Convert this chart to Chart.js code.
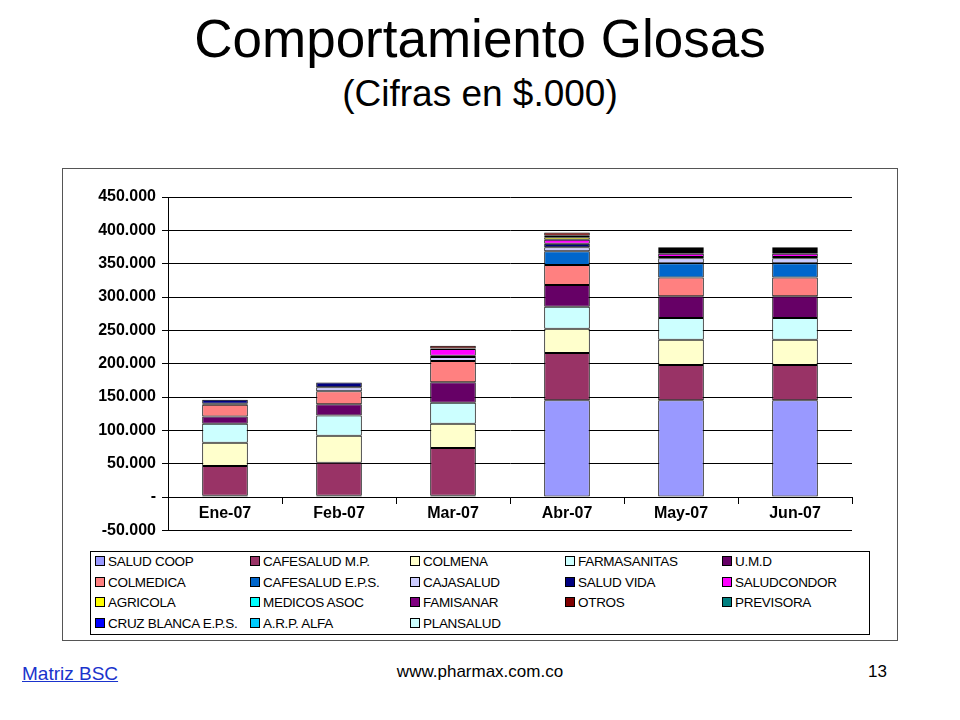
<!DOCTYPE html>
<html><head><meta charset="utf-8">
<script src="https://cdn.jsdelivr.net/npm/chart.js@4"></script>
<style>
body{margin:0;width:960px;height:720px;background:#fff;font-family:Arial,"Liberation Sans",sans-serif;position:relative;overflow:hidden}
#t1{position:absolute;top:8px;left:0;width:960px;text-align:center;font-size:53px}
#t2{position:absolute;top:73px;left:0;width:960px;text-align:center;font-size:37px}
#box{position:absolute;left:62px;top:168px;width:834px;height:471px;border:1px solid #555}
#cw{position:absolute;left:62px;top:168px;width:834px;height:378px}
#leg{position:absolute;left:90px;top:551px;width:778px;height:82px;border:1px solid #000;font-size:13.5px;letter-spacing:-0.3px}
.li{position:absolute;white-space:nowrap}
.sw{display:inline-block;width:8px;height:8px;border:1px solid #000;margin-right:3px;vertical-align:0px}
#f1{position:absolute;left:22px;top:663px;font-size:19px;color:#1a33cc;text-decoration:underline}
#f2{position:absolute;left:380px;top:662px;width:200px;text-align:center;font-size:17px}
#f3{position:absolute;left:868px;top:662px;font-size:17px}
</style></head><body>
<div id="t1">Comportamiento Glosas</div>
<div id="t2">(Cifras en $.000)</div>
<div id="box"></div>
<div id="cw"><canvas id="c"></canvas></div>
<div id="leg"></div>
<div id="f1">Matriz BSC</div>
<div id="f2">www.pharmax.com.co</div>
<div id="f3">13</div>
<script>
const categories=["Ene-07","Feb-07","Mar-07","Abr-07","May-07","Jun-07"];
const seriesNames=["SALUD COOP","CAFESALUD M.P.","COLMENA","FARMASANITAS","U.M.D","COLMEDICA","CAFESALUD E.P.S.","CAJASALUD","SALUD VIDA","SALUDCONDOR","AGRICOLA","MEDICOS ASOC","FAMISANAR","OTROS","PREVISORA","CRUZ BLANCA E.P.S.","A.R.P. ALFA","PLANSALUD"];
const seriesColors=["#9999FF","#993366","#FFFFCC","#CCFFFF","#660066","#FF8080","#0066CC","#CCCCFF","#000080","#FF00FF","#FFFF00","#00FFFF","#800080","#800000","#008080","#0000FF","#00CCFF","#CCFFFF"];
const saludCoop=[2000,2000,2000,145000,145000,145000];
const cafesaludMP=[44500,49500,71500,71000,53000,53000];
const colmena=[35000,40500,36500,36500,37800,37800];
const farmasanitas=[28300,30300,31300,32800,32900,32900];
const umd=[11000,16700,30800,32700,32300,32300];
const colmedica=[17700,19700,31800,30000,28300,28300];
const cafesaludEPS=[0,0,0,20700,21200,21200];
const cajasalud=[1500,6000,6000,6000,7500,7500];
const saludVida=[6000,7000,2000,5100,2000,2000];
const saludcondor=[0,0,10000,6000,5000,5000];
const agricola=[0,0,0,4000,1000,1000];
const medicosAsoc=[0,0,0,0,3000,3000];
const famisanar=[0,0,1000,2000,3000,3000];
const otros=[0,0,4000,4900,2700,2700];
const previsora=[0,0,0,0,0,0];
const cruzBlanca=[0,0,0,0,0,0];
const arpAlfa=[0,0,0,0,0,0];
const plansalud=[0,0,0,0,0,0];
const seriesValues=[saludCoop,cafesaludMP,colmena,farmasanitas,umd,colmedica,cafesaludEPS,cajasalud,saludVida,saludcondor,agricola,medicosAsoc,famisanar,otros,previsora,cruzBlanca,arpAlfa,plansalud];

const leg=document.getElementById('leg');
const colX=[4,159,319,474,631], rowY=[2,23,43,64];
seriesNames.forEach((n,i)=>{const d=document.createElement('div');d.className='li';
d.style.left=colX[i%5]+'px';d.style.top=rowY[Math.floor(i/5)]+'px';
d.innerHTML='<span class="sw" style="background:'+seriesColors[i]+'"></span>'+n;leg.appendChild(d);});

function fmt(v){if(v===0)return '-';const s=Math.abs(v).toString().replace(/\B(?=(\d{3})+(?!\d))/g,'.');return (v<0?'-':'')+s;}
const bottomLine={id:'bl',afterDraw(ch){const a=ch.chartArea,c=ch.ctx;c.save();c.strokeStyle='#000';c.lineWidth=1;c.beginPath();c.moveTo(a.left-6,Math.round(a.bottom)+0.5);c.lineTo(a.right,Math.round(a.bottom)+0.5);c.stroke();c.restore();}};
new Chart(document.getElementById('c'),{type:'bar',
data:{labels:categories,datasets:seriesNames.map((n,i)=>({label:n,data:seriesValues[i],backgroundColor:seriesColors[i],borderColor:'#000',borderWidth:1,borderSkipped:false,barPercentage:0.4,categoryPercentage:1}))},
options:{responsive:true,maintainAspectRatio:false,animation:false,
layout:{padding:{left:0,right:44,top:29,bottom:6}},
plugins:{legend:{display:false},tooltip:{enabled:false}},
scales:{
x:{stacked:true,position:{y:0},grid:{display:true,drawOnChartArea:false,offset:true,color:'#000',tickLength:6},border:{color:'#000'},
ticks:{color:'#000',font:{family:'Arial',size:16,weight:'bold'},padding:1}},
y:{stacked:true,min:-50000,max:450000,afterFit:s=>{s.width=106},grid:{color:'#000',drawTicks:true,tickLength:6},border:{color:'#000'},
ticks:{stepSize:50000,color:'#000',font:{family:'Arial',size:16,weight:'bold'},padding:6,callback:v=>fmt(v)}}
}}, plugins:[bottomLine]});
</script></body></html>
